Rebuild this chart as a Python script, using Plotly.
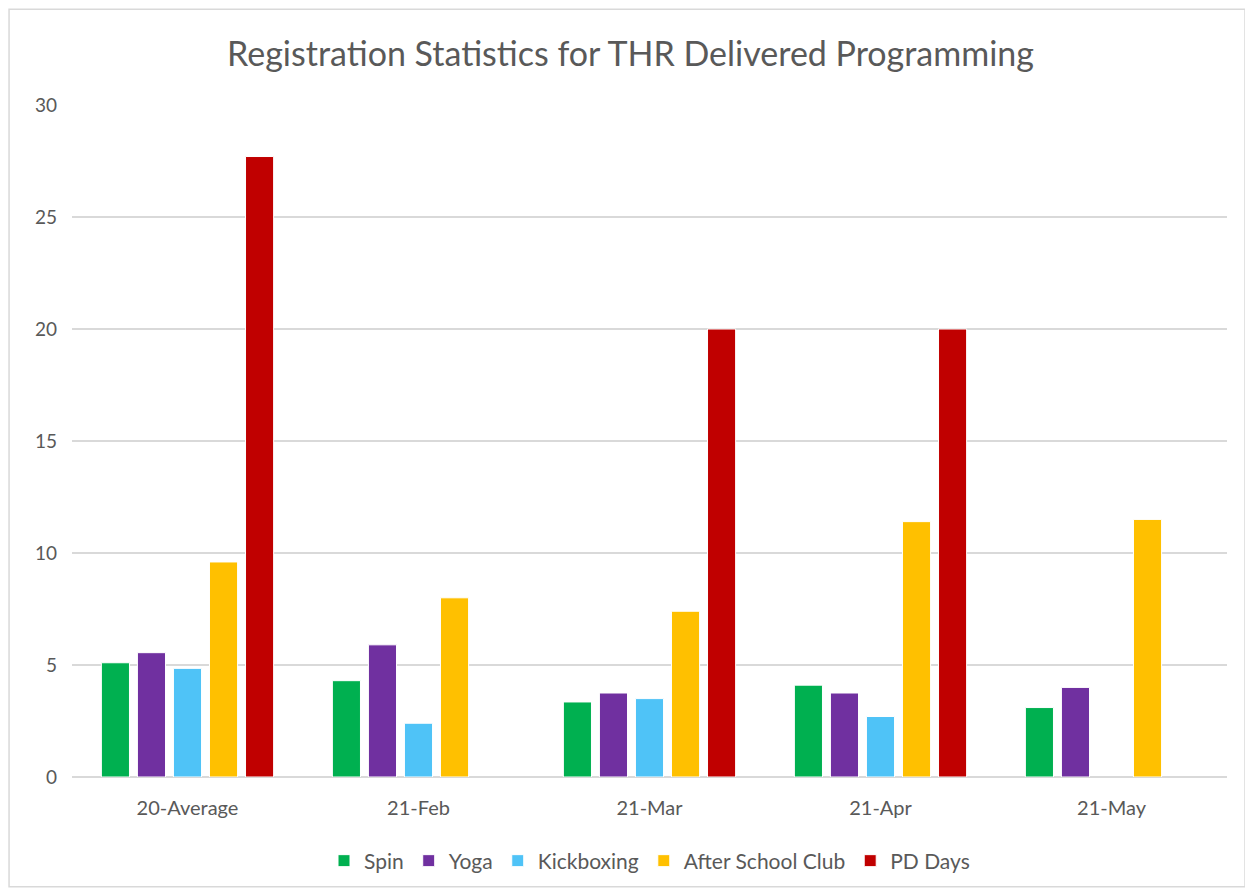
import plotly.graph_objects as go

CATEGORIES = ["20-Average", "21-Feb", "21-Mar", "21-Apr", "21-May"]
SPIN = [5.1, 4.3, 3.35, 4.1, 3.1]
YOGA = [5.55, 5.9, 3.75, 3.75, 4.0]
KICKBOXING = [4.85, 2.4, 3.5, 2.7, None]
AFTER_SCHOOL = [9.6, 8.0, 7.4, 11.4, 11.5]
PD_DAYS = [27.7, None, 20, 20, None]

SERIES = [
    ("Spin", SPIN, "#00b050"),
    ("Yoga", YOGA, "#7030a0"),
    ("Kickboxing", KICKBOXING, "#4fc3f7"),
    ("After School Club", AFTER_SCHOOL, "#ffc000"),
    ("PD Days", PD_DAYS, "#c00000"),
]

TEXT = "#595959"
FONT = "Lato, Open Sans, sans-serif"

fig = go.Figure()
for name, vals, colour in SERIES:
    fig.add_trace(
        go.Bar(
            x=CATEGORIES,
            y=vals,
            name=name,
            marker=dict(color=colour, line=dict(color="white", width=1)),
            hovertemplate="%{x}<br>%{y}<extra>" + name + "</extra>",
        )
    )

# light frame around the whole chart
fig.add_shape(
    type="rect",
    xref="paper",
    yref="paper",
    x0=-0.0545,
    x1=1.0156,
    y0=-0.1634,
    y1=1.1426,
    line=dict(color="#d9d9d9", width=1.5),
    layer="below",
)

# page body has an 8px margin, so the figure is 8px smaller than the window
fig.update_layout(
    width=1245,
    height=886,
    paper_bgcolor="white",
    plot_bgcolor="white",
    font=dict(family=FONT, size=16, color=TEXT),
    title=dict(
        text="Registration Statistics for THR Delivered Programming",
        x=0.5,
        xanchor="center",
        y=0.948,
        yanchor="middle",
        font=dict(family=FONT, size=34, color=TEXT),
    ),
    margin=dict(l=64, r=26, t=97, b=108),
    barmode="group",
    bargap=0.22,
    bargroupgap=0.22,
    legend=dict(
        orientation="h",
        x=0.5,
        xanchor="center",
        y=-0.125,
        yanchor="middle",
        font=dict(size=21, color=TEXT),
        itemwidth=30,
        traceorder="normal",
    ),
    showlegend=True,
)
fig.update_yaxes(
    range=[0, 30],
    dtick=5,
    gridcolor="#d9d9d9",
    gridwidth=1.5,
    zeroline=True,
    zerolinecolor="#d9d9d9",
    zerolinewidth=1.5,
    tickfont=dict(size=19, color=TEXT),
    ticklabelstandoff=14,
    showline=False,
)
fig.update_xaxes(
    tickfont=dict(size=20, color=TEXT),
    showline=False,
    showgrid=False,
    ticklabelstandoff=17,
)

fig.write_html("out.html")
